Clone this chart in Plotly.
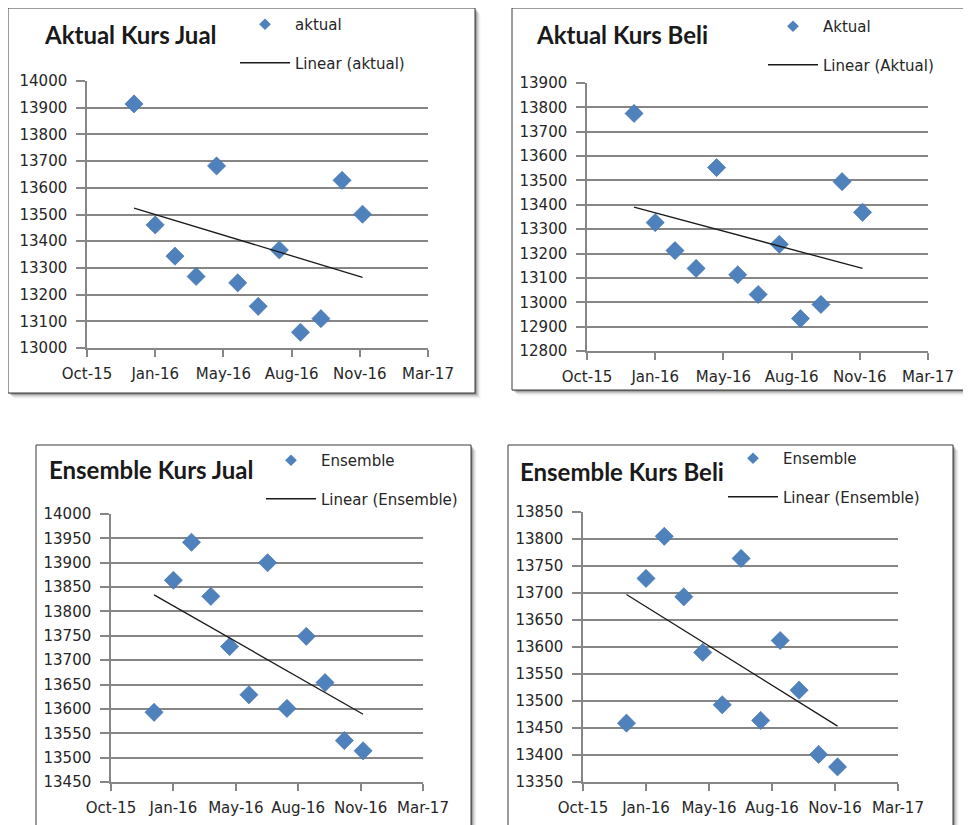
import numpy as np
import pandas as pd
import plotly.graph_objects as go

# ---------------- data ----------------
dates = ["2015-12-31", "2016-01-31", "2016-02-29", "2016-03-31", "2016-04-30", "2016-05-31",
         "2016-06-30", "2016-07-31", "2016-08-31", "2016-09-30", "2016-10-31", "2016-11-30"]
aktual_jual = [13914, 13461, 13344, 13268, 13682, 13244, 13156, 13367, 13059, 13110, 13628, 13501]
aktual_beli = [13775, 13327, 13212, 13139, 13553, 13113, 13032, 13238, 12933, 12991, 13495, 13369]
ensemble_jual = [13593, 13864, 13942, 13831, 13728, 13629, 13900, 13601, 13749, 13654, 13535, 13514]
ensemble_beli = [13459, 13727, 13805, 13693, 13590, 13493, 13764, 13464, 13612, 13520, 13401, 13378]
tick_serials = [42300, 42400, 42500, 42600, 42700, 42800]   # Excel date serials
tick_labels = ["Oct-15", "Jan-16", "May-16", "Aug-16", "Nov-16", "Mar-17"]
titles = ["Aktual Kurs Jual", "Aktual Kurs Beli", "Ensemble Kurs Jual", "Ensemble Kurs Beli"]
series_names = ["aktual", "Aktual", "Ensemble", "Ensemble"]
series_values = [aktual_jual, aktual_beli, ensemble_jual, ensemble_beli]
y_axes = [(13000, 14000, 100), (12800, 13900, 100), (13450, 14000, 50), (13350, 13850, 50)]

# ---------------- layout (pixels in the final screenshot) ----------------
W, H = 971, 825
OFF = 8  # page body margin
def px(x): return (x - OFF) / W
def py(y): return 1 - (y - OFF) / H

panels = [
    dict(box=(8, 8, 475, 393), plot=(87, 81, 428, 348), title=(42, 35), legend=(235, 8)),
    dict(box=(512, 8, 990, 390), plot=(587, 83, 928, 351), title=(534, 35), legend=(763, 10)),
    dict(box=(36, 445, 471, 845), plot=(111, 514, 423, 782), title=(47, 469), legend=(261, 444)),
    dict(box=(508, 445, 953, 845), plot=(583, 512, 898, 782), title=(518, 472), legend=(723, 442)),
]

TFONT = "Lato"
FONT = "DejaVu Sans"
TXT = "#262626"
GRID = "#868686"
BLUE = "#4f81bd"

tick_dates = [(pd.Timestamp("1899-12-30") + pd.Timedelta(days=s)).strftime("%Y-%m-%d") for s in tick_serials]
xnum = pd.to_datetime(dates).values.astype("datetime64[D]").astype(float)

fig = go.Figure()
shapes = []
annotations = []
layout_axes = {}

for i, (p, vals, name, title, (y0, y1, dy)) in enumerate(
        zip(panels, series_values, series_names, titles, y_axes), start=1):
    xa = "x" if i == 1 else f"x{i}"
    ya = "y" if i == 1 else f"y{i}"
    lg = "legend" if i == 1 else f"legend{i}"

    # points
    fig.add_trace(go.Scatter(x=dates, y=vals, mode="markers", xaxis=xa, yaxis=ya,
                             marker=dict(symbol="diamond", size=14, color=BLUE,
                                         line=dict(width=0.6, color="#3f6fa8")),
                             showlegend=False, name=name, cliponaxis=False))
    # legend entry for points (smaller symbol)
    fig.add_trace(go.Scatter(x=[None], y=[None], mode="markers", xaxis=xa, yaxis=ya,
                             marker=dict(symbol="diamond", size=9, color=BLUE),
                             name=name, legend=lg, legendgroup=f"m{i}", showlegend=True))
    # linear trendline
    slope, icpt = np.polyfit(xnum, vals, 1)
    xt = [dates[0], dates[-1]]
    yt = [slope * xnum[0] + icpt, slope * xnum[-1] + icpt]
    fig.add_trace(go.Scatter(x=xt, y=yt, mode="lines", xaxis=xa, yaxis=ya,
                             line=dict(color="#1a1a1a", width=1.3),
                             name=f"Linear ({name})", legend=lg, legendgroup=f"t{i}",
                             showlegend=True))

    bx0, by0, bx1, by1 = p["box"]
    # shadow
    for k, a in zip(range(1, 7), [0.22, 0.16, 0.11, 0.07, 0.04, 0.02]):
        shapes.append(dict(type="rect", xref="paper", yref="paper", layer="below",
                           x0=px(bx0 + k), x1=px(bx1 + k), y0=py(by0 + k), y1=py(by1 + k),
                           fillcolor=f"rgba(0,0,0,{a})", line=dict(width=0)))
    shapes.append(dict(type="rect", xref="paper", yref="paper", layer="below",
                       x0=px(bx0), x1=px(bx1), y0=py(by0), y1=py(by1),
                       fillcolor="white", line=dict(color="#3a3a3a", width=1)))

    tx, ty = p["title"]
    annotations.append(dict(text=f"<b>{title}</b>", xref="paper", yref="paper",
                            x=px(tx), y=py(ty), xanchor="left", yanchor="middle",
                            showarrow=False, font=dict(family=TFONT, size=24, color="#1a1a1a")))

    ax0, ay0, ax1, ay1 = p["plot"]
    layout_axes[f"xaxis{'' if i == 1 else i}"] = dict(
        domain=[px(ax0), px(ax1)], anchor=ya, type="date", automargin=False,
        range=[tick_dates[0], tick_dates[-1]],
        tickmode="array", tickvals=tick_dates, ticktext=tick_labels,
        showgrid=False, showline=True, linecolor=GRID, linewidth=1.5,
        ticks="outside", ticklen=7, tickcolor=GRID, tickwidth=1.5,
        ticklabelstandoff=4,
        tickfont=dict(family=FONT, size=15, color=TXT), zeroline=False, fixedrange=True)
    layout_axes[f"yaxis{'' if i == 1 else i}"] = dict(
        domain=[py(ay1), py(ay0)], anchor=xa, range=[y0, y1], dtick=dy, tick0=y0,
        automargin=False,
        tickformat="d", showgrid=True, gridcolor=GRID, gridwidth=1.5,
        showline=True, linecolor=GRID, linewidth=1.5,
        ticks="outside", ticklen=9, tickcolor=GRID, tickwidth=1.5,
        ticklabelstandoff=6,
        tickfont=dict(family=FONT, size=15, color=TXT), zeroline=False, fixedrange=True)

    lx, ly = p["legend"]
    layout_axes[lg] = dict(x=px(lx), y=py(ly), xanchor="left", yanchor="top",
                           bgcolor="rgba(0,0,0,0)", borderwidth=0,
                           font=dict(family=FONT, size=15, color=TXT),
                           traceorder="grouped", tracegroupgap=16, itemwidth=50)

fig.update_layout(width=W, height=H, margin=dict(l=0, r=0, t=0, b=0, autoexpand=False),
                  paper_bgcolor="white", plot_bgcolor="rgba(0,0,0,0)",
                  shapes=shapes, annotations=annotations, **layout_axes)

fig.write_html("out.html")
